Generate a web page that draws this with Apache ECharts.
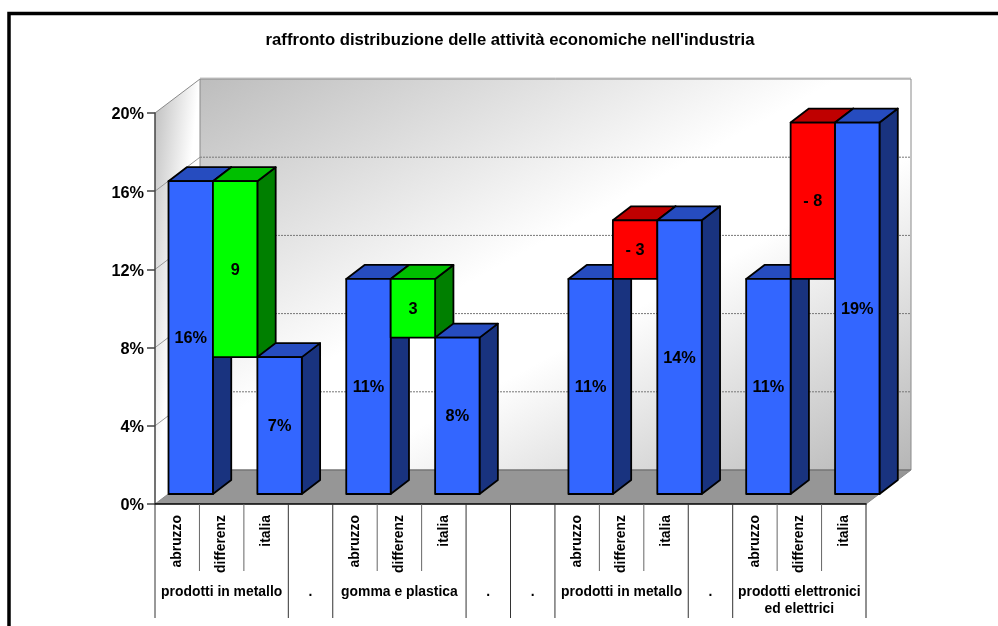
<!DOCTYPE html>
<html>
<head>
<meta charset="utf-8">
<title>raffronto distribuzione delle attività economiche nell'industria</title>
<style>
  html, body { margin: 0; padding: 0; background: #fff; }
  #chart { width: 998px; height: 626px; }
</style>
<script src="https://cdn.jsdelivr.net/npm/echarts@6/dist/echarts.min.js"></script>
</head>
<body>
<div id="chart"></div>
<script>
// Chart text and values
const chartTitle = "raffronto distribuzione delle attività economiche nell'industria";
const categories = ['abruzzo', 'differenz', 'italia', '', 'abruzzo', 'differenz', 'italia', '', '', 'abruzzo', 'differenz', 'italia', '', 'abruzzo', 'differenz', 'italia'];
const barLow  = [0, 7, 0, null, 0, 8, 0, null, null, 0, 11, 0, null, 0, 11, 0];
const barHigh = [16, 16, 7, null, 11, 11, 8, null, null, 11, 14, 14, null, 11, 19, 19];
const barText = ['16%', '9', '7%', '', '11%', '3', '8%', '', '', '11%', '- 3', '14%', '', '11%', '- 8', '19%'];
const barKind = ['base', 'gain', 'base', '', 'base', 'gain', 'base', '', '', 'base', 'loss', 'base', '', 'base', 'loss', 'base'];
const groupNames = ['prodotti in metallo', '.', 'gomma e plastica', '.', '.', 'prodotti in metallo', '.', 'prodotti elettronici\ned elettrici'];
const groupSpans = [3, 1, 3, 1, 1, 3, 1, 3];
const yTicks = [0, 4, 8, 12, 16, 20];

// Drawing styles
const FONT = '"Liberation Sans", Arial, sans-serif';
const kindColors = {
  base: { front: '#3366ff', top: '#264cbf', side: '#19337f' },
  gain: { front: '#00ff00', top: '#00bf00', side: '#007f00' },
  loss: { front: '#ff0000', top: '#bf0000', side: '#7f0000' }
};
const wallDepth = [45, -34];   // chamber depth projected on the page
const barInset = [13.5, -10];  // how far the bars stand inside the chamber
const barDepth = [18.3, -14];  // depth of one bar

const axisGrid = { left: 155, top: 113, width: 711, height: 391 };
const barGrid = {
  left: axisGrid.left + barInset[0],
  top: axisGrid.top + barInset[1],
  width: axisGrid.width,
  height: axisGrid.height
};

const barRows = categories.map((_, i) => [i, barLow[i], barHigh[i]]).filter(r => r[1] !== null);

const groupRows = [];
groupSpans.reduce((start, span, i) => {
  groupRows.push([start, 0, span, i]);
  return start + span;
}, 0);

function poly(points, fill, stroke, lineWidth) {
  return {
    type: 'polygon',
    shape: { points },
    style: { fill, stroke: stroke || null, lineWidth: lineWidth || 0, lineJoin: 'round' }
  };
}

function seg(a, b, stroke, lineWidth, lineDash) {
  return {
    type: 'line',
    shape: { x1: a[0], y1: a[1], x2: b[0], y2: b[1] },
    style: { stroke, lineWidth, lineDash: lineDash || null }
  };
}

// Back wall, side wall, floor and gridlines of the 3D chamber
function renderChamber(params, api) {
  const left = api.coord([0, 0])[0] - api.size([1, 0])[0] / 2;
  const right = left + api.size([1, 0])[0] * categories.length;
  const bottom = api.coord([0, 0])[1];
  const top = api.coord([0, 20])[1];
  const [dx, dy] = wallDepth;
  const wallW = right - left;
  const wallH = bottom - top;
  const len = Math.hypot(wallW, wallH);
  const half = wallW * wallH / len;
  const cx = left + dx + wallW / 2;
  const cy = top + dy + wallH / 2;
  const nx = wallH / len;
  const ny = wallW / len;
  const backFill = new echarts.graphic.LinearGradient(
    cx - half * nx, cy - half * ny, cx + half * nx, cy + half * ny,
    [
      { offset: 0, color: '#bdbdbd' },
      { offset: 0.45, color: '#ffffff' },
      { offset: 0.6, color: '#ffffff' },
      { offset: 1, color: '#b6b6b6' }
    ],
    true
  );
  const sideLen = Math.hypot(wallH - dy, dx);
  const sx = (wallH - dy) / sideLen;
  const sy = dx / sideLen;
  const reach = dx * sx;
  const sideFill = new echarts.graphic.LinearGradient(
    left, top + dy, left + reach * sx, top + dy + reach * sy,
    [{ offset: 0, color: '#bebebe' }, { offset: 1, color: '#ffffff' }],
    true
  );
  const children = [
    poly([[left + dx, top + dy], [right + dx, top + dy], [right + dx, bottom + dy], [left + dx, bottom + dy]], backFill),
    poly([[left, top], [left + dx, top + dy], [left + dx, bottom + dy], [left, bottom]], sideFill),
    poly([[left, bottom], [right, bottom], [right + dx, bottom + dy], [left + dx, bottom + dy]], '#969696')
  ];
  yTicks.slice(1, -1).forEach(v => {
    const y = api.coord([0, v])[1];
    children.push(seg([left + dx, y + dy], [right + dx, y + dy], '#777777', 1, [2, 1]));
    children.push(seg([left, y], [left + dx, y + dy], '#999999', 1));
  });
  children.push(
    seg([left + dx, top + dy - 1], [right + dx, top + dy - 1], '#c4c4c4', 1),
    seg([left, top], [left + dx, top + dy], '#8a8a8a', 1),
    seg([left + dx, top + dy], [right + dx, top + dy], '#8a8a8a', 1),
    seg([left + dx, top + dy], [left + dx, bottom + dy], '#8a8a8a', 1),
    seg([right + dx, top + dy], [right + dx, bottom + dy], '#8a8a8a', 1),
    seg([left + dx, bottom + dy], [right + dx, bottom + dy], '#757575', 1.5),
    seg([left, bottom], [left + dx, bottom + dy], '#8a8a8a', 1),
    seg([right, bottom], [right + dx, bottom + dy], '#8a8a8a', 1)
  );
  return { type: 'group', children };
}

// One extruded bar: side and top faces, then the front face and its label
function renderBar(params, api) {
  const i = api.value(0);
  const low = api.coord([i, api.value(1)]);
  const high = api.coord([i, api.value(2)]);
  const w = api.size([1, 0])[0];
  const x0 = low[0] - w / 2;
  const x1 = low[0] + w / 2;
  const [dx, dy] = barDepth;
  const colors = kindColors[barKind[i]];
  const edge = '#000000';
  return {
    type: 'group',
    children: [
      poly([[x1, high[1]], [x1 + dx, high[1] + dy], [x1 + dx, low[1] + dy], [x1, low[1]]], colors.side, edge, 1.8),
      poly([[x0, high[1]], [x0 + dx, high[1] + dy], [x1 + dx, high[1] + dy], [x1, high[1]]], colors.top, edge, 1.8),
      poly([[x0, high[1]], [x1, high[1]], [x1, low[1]], [x0, low[1]]], colors.front, edge, 1.8),
      {
        type: 'text',
        style: {
          x: low[0], y: (low[1] + high[1]) / 2 + 1,
          text: barText[i],
          fill: '#000000',
          font: 'bold 16.3px ' + FONT,
          align: 'center', verticalAlign: 'middle'
        }
      }
    ]
  };
}

// Second level of the category axis: separators and group names
function renderGroup(params, api) {
  const start = api.value(0);
  const span = api.value(2);
  const w = api.size([1, 0])[0];
  const base = api.coord([start, 0]);
  const x0 = base[0] - w / 2;
  const y0 = base[1];
  const children = [seg([x0, y0], [x0, y0 + 114], '#333333', 1)];
  for (let k = 1; k < span; k++) {
    children.push(seg([x0 + k * w, y0], [x0 + k * w, y0 + 67], '#666666', 1));
  }
  if (start + span === categories.length) {
    children.push(seg([x0 + span * w, y0], [x0 + span * w, y0 + 114], '#222222', 1));
  }
  children.push({
    type: 'text',
    style: {
      x: x0 + span * w / 2, y: y0 + 79,
      text: groupNames[api.value(3)],
      fill: '#000000',
      font: 'bold 13.9px ' + FONT,
      lineHeight: 17.5,
      align: 'center', verticalAlign: 'top'
    }
  });
  return { type: 'group', children };
}

const chart = echarts.init(document.getElementById('chart'), null, { renderer: 'canvas' });

chart.setOption({
  animation: false,
  backgroundColor: '#ffffff',
  title: {
    text: chartTitle,
    left: 505, top: 27, textAlign: 'center',
    textStyle: { fontFamily: FONT, fontWeight: 'bold', fontSize: 16.7, color: '#000000' }
  },
  graphic: [{
    type: 'polyline',
    shape: { points: [[9, 626], [9, 13.5], [998, 13.5]] },
    style: { stroke: '#000000', lineWidth: 3.5, fill: null },
    silent: true
  }],
  grid: [
    Object.assign({ containLabel: false }, axisGrid),
    Object.assign({ containLabel: false }, barGrid)
  ],
  xAxis: [
    {
      type: 'category',
      gridIndex: 0,
      data: categories,
      z: 4,
      axisLine: { show: true, lineStyle: { color: '#000000', width: 1.5 } },
      axisTick: { show: false },
      axisLabel: {
        interval: 0, rotate: 90, margin: 11,
        fontFamily: FONT, fontWeight: 'bold', fontSize: 13.9, color: '#000000'
      }
    },
    { type: 'category', gridIndex: 1, data: categories, show: false }
  ],
  yAxis: [
    {
      type: 'value',
      gridIndex: 0,
      min: 0, max: 20, interval: 4,
      z: 4,
      axisLine: { show: true, lineStyle: { color: '#444444', width: 1.5 } },
      axisTick: { show: true, length: 8, lineStyle: { color: '#444444', width: 1.5 } },
      axisLabel: {
        margin: 11,
        formatter: v => `{tick|${v}%}`,
        rich: {
          tick: {
            padding: [4, 0, 0, 0],
            fontFamily: FONT, fontWeight: 'bold', fontSize: 16.3, color: '#000000'
          }
        }
      },
      splitLine: { show: false }
    },
    { type: 'value', gridIndex: 1, min: 0, max: 20, interval: 4, show: false }
  ],
  series: [
    {
      type: 'custom', name: 'camera', xAxisIndex: 0, yAxisIndex: 0, z: 1, silent: true,
      renderItem: renderChamber, data: [[0, 0]]
    },
    {
      type: 'custom', name: 'livelli', xAxisIndex: 0, yAxisIndex: 0, z: 5, silent: true,
      renderItem: renderGroup, data: groupRows, encode: { x: 0, y: 1 }
    },
    {
      type: 'custom', name: 'attività', xAxisIndex: 1, yAxisIndex: 1, z: 6, silent: true,
      renderItem: renderBar, data: barRows, encode: { x: 0, y: [1, 2] }
    }
  ]
});
</script>
</body>
</html>
